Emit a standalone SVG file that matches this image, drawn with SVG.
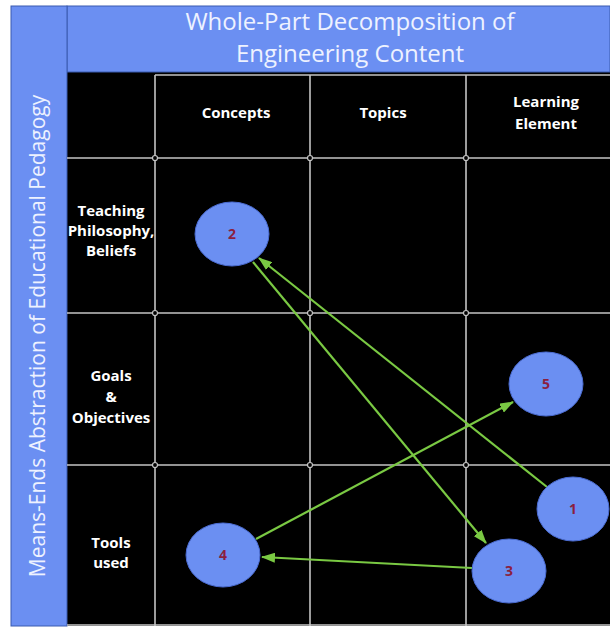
<svg xmlns="http://www.w3.org/2000/svg" width="610" height="628" viewBox="0 0 610 628">
<style>
.band{fill:#6b8ff2;stroke:#3a5bb0;stroke-width:1}
.grid{stroke:#c4c4c4;stroke-width:1.6;fill:none}
.title{font-family:"Open Sans","Noto Sans",sans-serif;font-size:24px;fill:#eef2ff;text-anchor:middle}
.side{font-family:"Open Sans","Noto Sans",sans-serif;font-size:21px;fill:#eef2ff;text-anchor:middle}
.hdr{font-family:"Open Sans","Noto Sans",sans-serif;font-size:15px;font-weight:bold;fill:#ffffff;text-anchor:middle}
.node{fill:#6b8ff2;stroke:#4a6bd0;stroke-width:1}
.num{font-family:"Open Sans","Noto Sans",sans-serif;font-size:14px;font-weight:bold;fill:#8a1f3f;text-anchor:middle}
.edge{stroke:#7ac943;stroke-width:2.2;fill:none;marker-end:url(#ah)}
.dot{fill:#000;stroke:#c4c4c4;stroke-width:1.2}
</style>
<defs>
<marker id="ah" viewBox="0 0 14 10" refX="13" refY="5" markerWidth="14" markerHeight="10" markerUnits="userSpaceOnUse" orient="auto">
<path d="M0,0 L14,5 L0,10 Z" fill="#7ac943"/>
</marker>
</defs>
<rect x="0" y="0" width="610" height="628" fill="#ffffff"/>
<rect x="67" y="72" width="543" height="554" fill="#000000"/>
<g id="header-band">
<rect class="band" x="67" y="6" width="543" height="66"/>
<text class="title" x="350" y="30">Whole-Part Decomposition of</text>
<text class="title" x="350" y="62">Engineering Content</text>
</g>
<g id="side-band">
<rect class="band" x="11" y="6" width="56" height="620"/>
<text class="side" transform="translate(45,336) rotate(-90)">Means-Ends Abstraction of Educational Pedagogy</text>
</g>
<g id="grid">
<line class="grid" x1="155" y1="75" x2="155" y2="626"/>
<line class="grid" x1="310" y1="75" x2="310" y2="626"/>
<line class="grid" x1="466" y1="75" x2="466" y2="626"/>
<line class="grid" x1="155" y1="75" x2="610" y2="75"/>
<line class="grid" x1="67" y1="158" x2="610" y2="158"/>
<line class="grid" x1="67" y1="313" x2="610" y2="313"/>
<line class="grid" x1="67" y1="465" x2="610" y2="465"/>
<line class="grid" x1="67" y1="625" x2="610" y2="625"/>
<circle class="dot" cx="155" cy="158" r="2.5"/>
<circle class="dot" cx="310" cy="158" r="2.5"/>
<circle class="dot" cx="466" cy="158" r="2.5"/>
<circle class="dot" cx="155" cy="313" r="2.5"/>
<circle class="dot" cx="310" cy="313" r="2.5"/>
<circle class="dot" cx="466" cy="313" r="2.5"/>
<circle class="dot" cx="155" cy="465" r="2.5"/>
<circle class="dot" cx="310" cy="465" r="2.5"/>
<circle class="dot" cx="466" cy="465" r="2.5"/>
</g>
<g id="col-headers">
<text class="hdr" x="236" y="118">Concepts</text>
<text class="hdr" x="383" y="118">Topics</text>
<text class="hdr" x="546" y="107">Learning</text>
<text class="hdr" x="546" y="129">Element</text>
</g>
<g id="row-headers">
<text class="hdr" x="111" y="216">Teaching</text>
<text class="hdr" x="111" y="236">Philosophy,</text>
<text class="hdr" x="111" y="256">Beliefs</text>
<text class="hdr" x="111" y="381">Goals</text>
<text class="hdr" x="111" y="402">&amp;</text>
<text class="hdr" x="111" y="423">Objectives</text>
<text class="hdr" x="111" y="548">Tools</text>
<text class="hdr" x="111" y="568">used</text>
</g>
<g id="connectors">
<line class="edge" x1="547" y1="487" x2="259" y2="258"/>
<line class="edge" x1="253" y1="262" x2="486" y2="543"/>
<line class="edge" x1="256" y1="539" x2="513" y2="402"/>
<line class="edge" x1="472" y1="568" x2="262" y2="557"/>
</g>
<g id="node-2"><ellipse class="node" cx="232" cy="234" rx="37" ry="32"/><text class="num" x="232" y="239">2</text></g>
<g id="node-5"><ellipse class="node" cx="546" cy="384" rx="37" ry="32"/><text class="num" x="546" y="389">5</text></g>
<g id="node-1"><ellipse class="node" cx="573" cy="509" rx="36" ry="32"/><text class="num" x="573" y="514">1</text></g>
<g id="node-3"><ellipse class="node" cx="509" cy="571" rx="37" ry="32"/><text class="num" x="509" y="576">3</text></g>
<g id="node-4"><ellipse class="node" cx="223" cy="555" rx="37" ry="32"/><text class="num" x="223" y="560">4</text></g>
</svg>
